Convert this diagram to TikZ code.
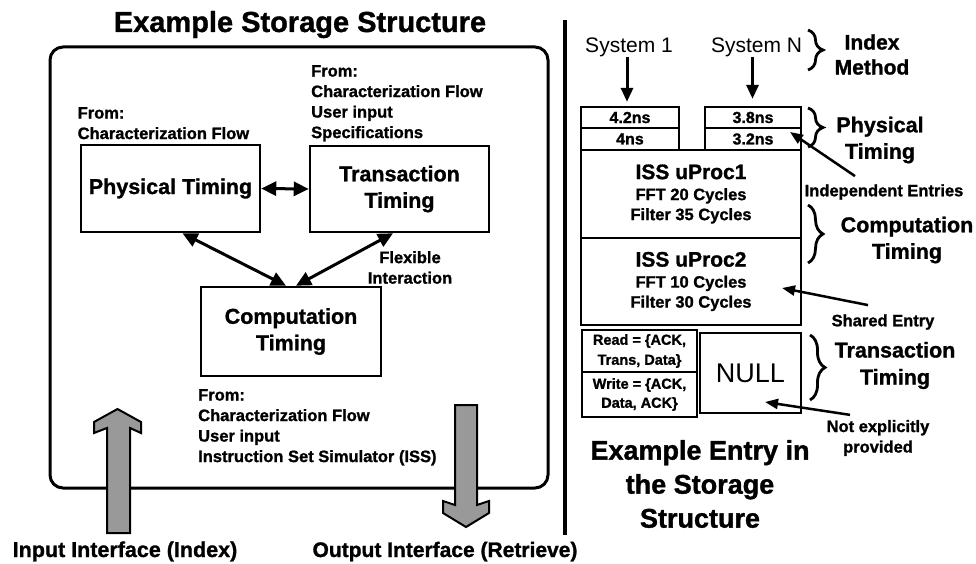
\documentclass[tikz,border=0pt]{standalone}
\usepackage{fontspec}
\setmainfont{Liberation Sans}[BoldFeatures={FakeBold=1.2}]
\usetikzlibrary{arrows.meta,decorations.pathreplacing}
\newcommand\setfs[2]{\fontsize{#1}{#2}\selectfont}
\begin{document}
\begin{tikzpicture}[x=1pt,y=-1pt,
  tbox/.style={draw,line width=2.5pt,inner sep=0pt,align=center,font=\bfseries\setfs{21.5}{26.5}},
  ebox/.style={draw,line width=2.3pt,inner sep=0pt,align=center},
  src/.style={anchor=north west,inner sep=0pt,align=left,font=\bfseries\setfs{16.5}{20.5}},
  lbl/.style={inner sep=0pt,align=center,font=\bfseries\setfs{21.5}{26.5}},
  slbl/.style={inner sep=0pt,align=center,font=\bfseries\setfs{16.5}{20.5}},
  conn/.style={line width=3pt,{Triangle[length=15pt,width=14pt]}-{Triangle[length=15pt,width=14pt]}},
  dn/.style={line width=3pt,-{Triangle[length=14pt,width=12pt]}},
  ptr/.style={line width=2.5pt,-{Triangle[length=13pt,width=10pt]}},
  brc/.style={decorate,decoration={brace,amplitude=15pt},line width=2.8pt},
  blk/.style={draw,line width=2pt,fill=black!40,line join=miter}
]
\useasboundingbox (0,0) rectangle (976,564);

% ---------- left part ----------
\node[inner sep=0pt,anchor=base,font=\bfseries\setfs{29}{32}] (title) at (300,32) {Example Storage Structure};
\node[draw,line width=3pt,rounded corners=13pt,minimum width=498pt,minimum height=441pt,inner sep=0pt] (frame) at (299,267.5) {};

\node[tbox,minimum width=179pt,minimum height=87pt] (phys) at (170.5,188.5) {Physical Timing};
\node[tbox,minimum width=179pt,minimum height=86pt] (trans) at (399.5,189) {Transaction\\Timing};
\node[tbox,minimum width=180pt,minimum height=89pt] (comp) at (291,331.5) {Computation\\Timing};

\node[src] (physsrc) at (77.5,107) {From:\\Characterization Flow};
\node[src] (transsrc) at (311,65) {From:\\Characterization Flow\\User input\\Specifications};
\node[src] (compsrc) at (198,389) {From:\\Characterization Flow\\User input\\Instruction Set Simulator (ISS)};

\draw[conn] (phys.east) -- (trans.west);
\draw[conn] ([xshift=12pt]phys.south) -- ([xshift=-5pt]comp.north);
\draw[conn] ([xshift=-6.5pt]trans.south) -- ([xshift=5pt]comp.north);
\node[slbl] (flex) at (410,267.5) {Flexible\\Interaction};

% block arrows
\draw[blk] (117.5,409) -- (141,422) -- (141,433) -- (130,428) -- (130,533) -- (107,533) -- (107,428) -- (94,433) -- (94,422) -- cycle;
\coordinate (inarrow) at (118,470);
\draw[blk] (455,405) -- (477,405) -- (477,505) -- (489,501) -- (489,513) -- (466,527) -- (443,513) -- (443,501) -- (455,505) -- cycle;
\coordinate (outarrow) at (466,470);

\node[inner sep=0pt,anchor=base,font=\bfseries\setfs{21.5}{26}] (inlbl) at (125,557) {Input Interface (Index)};
\node[inner sep=0pt,anchor=base,font=\bfseries\setfs{21}{26}] (outlbl) at (445,557) {Output Interface (Retrieve)};

% separator
\coordinate (septop) at (565,20);
\coordinate (sepbot) at (565,535);
\draw[line width=3.5pt] (septop) -- (sepbot);

% ---------- right part ----------
\node[inner sep=0pt,font=\setfs{21}{25}] (sys1) at (629,47) {System 1};
\node[inner sep=0pt,font=\setfs{21}{25}] (sysN) at (756.5,47) {System N};
\node[lbl,font=\bfseries\setfs{21}{25}] (idx) at (872,54.5) {Index\\Method};
\draw[brc] (808,30) -- (808,70);

\node[ebox,minimum width=98pt,minimum height=21pt,font=\bfseries\setfs{16}{18}] (s1a) at (630,117.5) {4.2ns};
\node[ebox,minimum width=98pt,minimum height=22pt,font=\bfseries\setfs{16}{18}] (s1b) at (630,139) {4ns};
\node[ebox,minimum width=96pt,minimum height=21pt,font=\bfseries\setfs{16}{18}] (sNa) at (753,117.5) {3.8ns};
\node[ebox,minimum width=96pt,minimum height=22pt,font=\bfseries\setfs{16}{18}] (sNb) at (753,139) {3.2ns};

\draw[dn,shorten >=4pt] ([xshift=-2pt]sys1.south) -- ([xshift=-2pt]sys1.south |- s1a.north);
\draw[dn,shorten >=7pt] ([xshift=-4pt]sysN.south) -- ([xshift=-4pt]sysN.south |- sNa.north);

\node[ebox,minimum width=220pt,minimum height=88pt,font=\bfseries\setfs{16.5}{20}] (iss1) at (691,194)
  {{\setfs{21}{21}ISS uProc1}\\[1pt]FFT 20 Cycles\\Filter 35 Cycles};
\node[ebox,minimum width=220pt,minimum height=87pt,font=\bfseries\setfs{16.5}{20}] (iss2) at (691,281.5)
  {{\setfs{21}{21}ISS uProc2}\\[1pt]FFT 10 Cycles\\Filter 30 Cycles};

\node[ebox,minimum width=115pt,minimum height=42pt,font=\bfseries\setfs{14.5}{20}] (rd) at (639.5,351) {Read = \{ACK,\\Trans, Data\}};
\node[ebox,minimum width=115pt,minimum height=45pt,font=\bfseries\setfs{14.5}{19}] (wr) at (639.5,394.5) {Write = \{ACK,\\Data, ACK\}};
\node[ebox,minimum width=101pt,minimum height=80pt,font=\setfs{27}{30}] (null) at (750.5,373) {NULL};

\draw[brc] (808,108) -- (808,147);
\node[lbl] (physlbl) at (880,140) {Physical\\Timing};
\node[slbl] (ind) at (884,192) {Independent Entries};
\coordinate (indtip) at (790,132);
\draw[ptr] ([xshift=-29pt,yshift=8pt]ind.north) -- (indtip);

\draw[brc] (808,205) -- (808,263);
\node[lbl] (complbl) at (907,240) {Computation\\Timing};
\node[slbl] (shared) at (883,322) {Shared Entry};
\coordinate (sharedtip) at (782,288);
\draw[ptr] ([xshift=-15pt,yshift=9pt]shared.north) -- (sharedtip);

\draw[brc] (810,335) -- (810,400);
\node[lbl,font=\bfseries\setfs{21.5}{27}] (translbl) at (895,365.5) {Transaction\\Timing};
\node[slbl] (notexp) at (878,438) {Not explicitly\\provided};
\coordinate (nulltip) at (765,402);
\draw[ptr] ([xshift=-28pt,yshift=5pt]notexp.north) -- (nulltip);

\node[lbl,font=\bfseries\setfs{27}{34}] (entry) at (700,484) {Example Entry in\\the Storage\\Structure};
\end{tikzpicture}
\end{document}
